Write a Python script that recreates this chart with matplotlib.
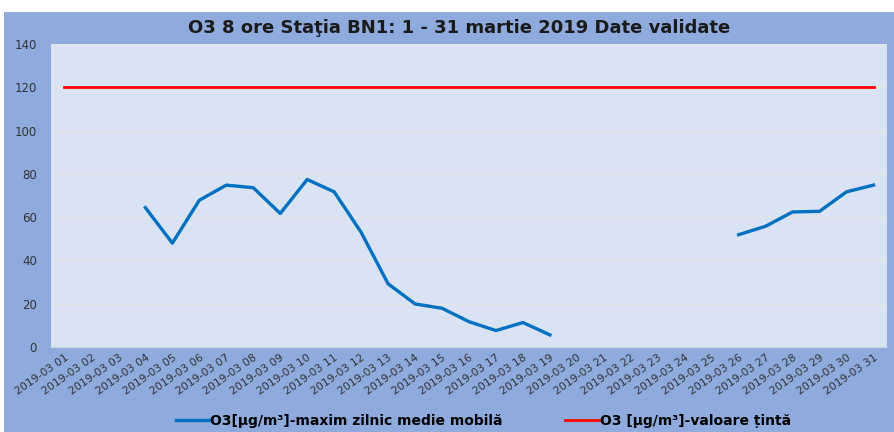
import numpy as np
import matplotlib.pyplot as plt
from matplotlib.patches import Rectangle

plt.rcParams['font.family'] = ['DejaVu Sans']

# data (NaN = no validated data)
days = [f"2019-03 {d:02d}" for d in range(1, 32)]
o3_8h = [np.nan, np.nan, np.nan, 64.4, 48.0, 67.8, 74.8, 73.6, 61.7, 77.4,
         71.7, 53.0, 29.2, 19.9, 17.9, 11.7, 7.6, 11.3, 5.6, np.nan,
         np.nan, np.nan, np.nan, np.nan, np.nan, 51.9, 55.8, 62.4, 62.7, 71.7,
         74.8]
target = [120] * 31

fig = plt.figure(figsize=(8.95, 4.32), dpi=100, facecolor='white')
# blue chart background (white strip top and left like the screenshot)
fig.patches.append(Rectangle((4 / 895, 0), 1, 1 - 12 / 432, transform=fig.transFigure,
                             facecolor='#8FAADC', edgecolor='none', zorder=-1))

ax = fig.add_axes([51 / 895, 1 - 347 / 432, 836 / 895, 303 / 432])
ax.set_facecolor('#DAE3F3')

x = np.arange(len(days))
ax.plot(x, o3_8h, color='#0070C0', lw=2.4, solid_joinstyle='round',
        label='O3[µg/m³]-maxim zilnic medie mobilă')
ax.plot(x, target, color='#FF0000', lw=2.0,
        label='O3 [µg/m³]-valoare țintă')

ax.set_xlim(-0.5, len(days) - 0.5)
ax.set_ylim(0, 140)
ax.set_yticks(range(0, 141, 20))
ax.set_xticks(x)
ax.set_xticklabels(days, rotation=35, ha='right', rotation_mode='anchor',
                   fontsize=7.8, color='#333333')
ax.tick_params(axis='y', labelsize=8.5, colors='#333333', length=0, pad=10)
ax.tick_params(axis='x', length=0, pad=4)
ax.grid(axis='y', color='#E6E6E6', lw=0.8)
ax.set_axisbelow(True)
for s in ax.spines.values():
    s.set_visible(False)
ax.spines['bottom'].set_visible(True)
ax.spines['bottom'].set_color('#C9D3E6')

fig.text(0.513, 1 - 28 / 432, 'O3 8 ore Staţia BN1: 1 - 31 martie 2019 Date validate',
         ha='center', va='center', fontsize=13, fontweight='bold', color='#1a1a1a')

fig.legend(loc='center', bbox_to_anchor=(0.54, 1 - 421 / 432), ncol=2, frameon=False,
           prop={'size': 10, 'weight': 'bold'}, handlelength=2.4, handletextpad=0.1,
           columnspacing=4.5)

fig.savefig('out.png', dpi=100, facecolor=fig.get_facecolor())
